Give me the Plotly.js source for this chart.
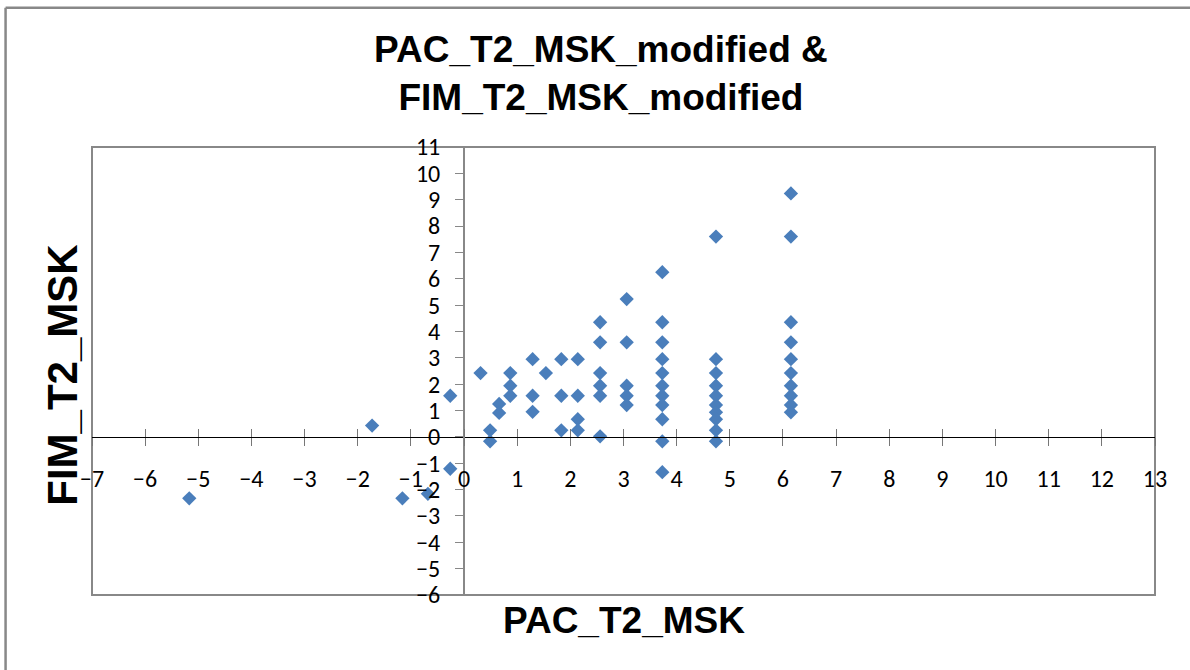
<!DOCTYPE html>
<html>
<head>
<meta charset="utf-8">
<script src="https://cdn.plot.ly/plotly-3.0.1.min.js"></script>
<style>html,body{margin:0;padding:0;background:#fff;}#chart{width:1190px;height:670px;}</style>
</head>
<body>
<div id="chart"></div>
<script>
// PAC_T2_MSK (x) and FIM_T2_MSK (y) values
var pacValues = [
  -5.17,
  -1.73,
  -1.16,
  -0.68,
  -0.26, -0.26,
  0.31,
  0.49, 0.49,
  0.66, 0.66,
  0.87, 0.87, 0.87,
  1.29, 1.29, 1.29,
  1.54,
  1.83, 1.83, 1.83,
  2.14, 2.14, 2.14, 2.14,
  2.56, 2.56, 2.56, 2.56, 2.56, 2.56,
  3.06, 3.06, 3.06, 3.06, 3.06,
  3.73, 3.73, 3.73, 3.73, 3.73, 3.73, 3.73, 3.73, 3.73, 3.73, 3.73,
  4.74, 4.74, 4.74, 4.74, 4.74, 4.74, 4.74, 4.74, 4.74, 4.74,
  6.15, 6.15, 6.15, 6.15, 6.15, 6.15, 6.15, 6.15, 6.15, 6.15
];
var fimValues = [
  -2.33,
  0.43,
  -2.33,
  -2.16,
  -1.21, 1.56,
  2.42,
  0.25, -0.17,
  1.25, 0.91,
  2.42, 1.94, 1.56,
  2.95, 1.56, 0.95,
  2.42,
  2.95, 1.56, 0.25,
  2.95, 1.56, 0.67, 0.25,
  4.35, 3.59, 2.42, 1.94, 1.56, 0.02,
  5.23, 3.59, 1.94, 1.56, 1.21,
  6.25, 4.35, 3.59, 2.95, 2.42, 1.94, 1.56, 1.21, 0.67, -0.17, -1.34,
  7.60, 2.95, 2.42, 1.94, 1.56, 1.21, 0.93, 0.67, 0.25, -0.17,
  9.24, 7.60, 4.35, 3.59, 2.95, 2.42, 1.94, 1.56, 1.21, 0.93
];
var xRange = [-7, 13];
var yRange = [-6, 11];
var chartTitle = 'PAC_T2_MSK_modified &<br>FIM_T2_MSK_modified';
var xTitle = 'PAC_T2_MSK';
var yTitle = 'FIM_T2_MSK';

var tickFont = {family: 'Carlito, Lato, "Liberation Sans", sans-serif', size: 24, color: '#000'};
var titleFamily = '"Liberation Sans", Arial, sans-serif';

var xZeroFrac = (0 - yRange[0]) / (yRange[1] - yRange[0]);
var yZeroFrac = (0 - xRange[0]) / (xRange[1] - xRange[0]);

var traces = [
  {
    type: 'scatter', mode: 'markers',
    x: pacValues, y: fimValues,
    xaxis: 'x', yaxis: 'y',
    marker: {symbol: 'diamond', size: 11, color: '#4a7ebb', line: {width: 0}},
    showlegend: false, hoverinfo: 'x+y'
  },
  {
    type: 'scatter', mode: 'markers', x: [], y: [],
    xaxis: 'x2', yaxis: 'y', showlegend: false, hoverinfo: 'skip'
  }
];

var layout = {
  width: 1190, height: 670,
  margin: {l: 92, r: 35, t: 147, b: 75},
  paper_bgcolor: '#fff', plot_bgcolor: '#fff',
  showlegend: false,
  title: {
    text: '<b>' + chartTitle + '</b>',
    font: {family: titleFamily, size: 37, color: '#000'},
    x: 0.505, xanchor: 'center', y: 0.907, yanchor: 'middle'
  },
  xaxis: {
    range: xRange, dtick: 1, tick0: 0,
    anchor: 'free', position: xZeroFrac,
    showgrid: false, zeroline: false,
    showline: true, linecolor: '#000', linewidth: 1,
    ticks: 'outside', ticklen: 8, tickwidth: 1, tickcolor: '#777',
    ticklabelstandoff: 12,
    tickfont: tickFont
  },
  xaxis2: {
    range: xRange, dtick: 1, tick0: 0,
    overlaying: 'x', anchor: 'free', position: xZeroFrac,
    showgrid: false, zeroline: false, showline: false,
    ticks: 'inside', ticklen: 8, tickwidth: 1, tickcolor: '#777',
    showticklabels: false
  },
  yaxis: {
    range: yRange, dtick: 1, tick0: 0,
    anchor: 'free', position: yZeroFrac,
    showgrid: false, zeroline: false,
    showline: true, linecolor: '#888', linewidth: 2,
    ticks: 'outside', ticklen: 8, tickwidth: 1, tickcolor: '#888',
    ticklabelstandoff: 10,
    tickfont: tickFont
  },
  shapes: [
    {type: 'rect', xref: 'paper', yref: 'paper', x0: 0, x1: 1, y0: 0, y1: 1,
     line: {color: '#888', width: 2}, fillcolor: 'rgba(0,0,0,0)', layer: 'below'},
    {type: 'line', xref: 'paper', yref: 'paper', x0: -0.0813, x1: 1.04, y0: 1.311, y1: 1.311,
     line: {color: '#888', width: 2.5}},
    {type: 'line', xref: 'paper', yref: 'paper', x0: -0.0813, x1: -0.0813, y0: 1.311, y1: -0.2,
     line: {color: '#888', width: 2.5}}
  ],
  annotations: [
    {text: '<b>' + xTitle + '</b>', xref: 'paper', yref: 'paper', x: 0.5, y: -0.056,
     xanchor: 'center', yanchor: 'middle', showarrow: false,
     font: {family: titleFamily, size: 37, color: '#000'}},
    {text: '<b>' + yTitle + '</b>', xref: 'paper', yref: 'paper', x: -0.028, y: 0.49,
     xanchor: 'center', yanchor: 'middle', showarrow: false, textangle: -90,
     font: {family: titleFamily, size: 42, color: '#000'}}
  ]
};

Plotly.newPlot('chart', traces, layout, {staticPlot: true, displayModeBar: false});
</script>
</body>
</html>
